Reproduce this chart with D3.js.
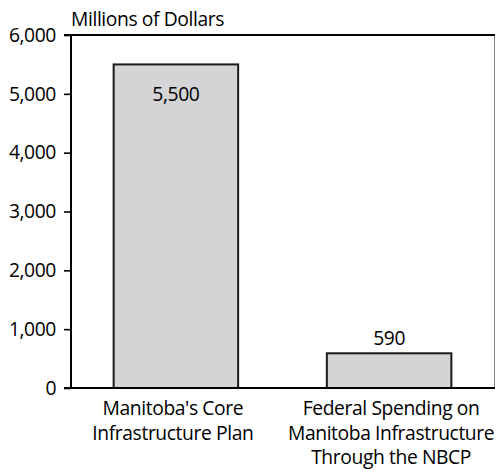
<!DOCTYPE html>
<html>
<head>
<meta charset="utf-8">
<script src="https://cdn.jsdelivr.net/npm/d3@7"></script>
<style>
  html, body { margin: 0; padding: 0; background: #fff; }
  svg { display: block; }
  text { font-family: "Open Sans", "Noto Sans", sans-serif; fill: #000; letter-spacing: -0.4px; }
</style>
</head>
<body>
<svg id="chart" width="496" height="472"></svg>
<script>
// Spending comparison, millions of dollars
const categories = [
  ["Manitoba's Core", "Infrastructure Plan"],
  ["Federal Spending on", "Manitoba Infrastructure", "Through the NBCP"]
];
const values = [5500, 590];
const valueLabels = ["5,500", "590"];
const yTicks = [0, 1000, 2000, 3000, 4000, 5000, 6000];
const yTickLabels = ["0", "1,000", "2,000", "3,000", "4,000", "5,000", "6,000"];
const axisTitle = "Millions of Dollars";

const svg = d3.select("#chart");
const plotLeft = 71, plotRight = 494, plotTop = 35, plotBottom = 388;
const fontSize = 19.3;

const x = d3.scaleBand()
  .domain(d3.range(values.length))
  .range([plotLeft, plotRight])
  .paddingInner(0.416)
  .paddingOuter(0.2);

const y = d3.scaleLinear().domain([0, 6000]).range([plotBottom, plotTop]);

// right frame edge
svg.append("line")
  .attr("x1", plotRight + 0.5).attr("x2", plotRight + 0.5)
  .attr("y1", plotTop).attr("y2", plotBottom)
  .attr("stroke", "#8a8a8a").attr("stroke-width", 1);

// bars
svg.selectAll("rect.bar")
  .data(values)
  .join("rect")
  .attr("class", "bar")
  .attr("x", (d, i) => x(i))
  .attr("width", x.bandwidth())
  .attr("y", d => y(d))
  .attr("height", d => y(0) - y(d))
  .attr("fill", "#d4d4d6")
  .attr("stroke", "#1a1a1a")
  .attr("stroke-width", 2);

// y axis
const yAxis = d3.axisLeft(y)
  .tickValues(yTicks)
  .tickFormat((d, i) => yTickLabels[i])
  .tickSize(7)
  .tickPadding(8);
const gy = svg.append("g").attr("transform", `translate(${plotLeft},0)`).call(yAxis);
gy.select(".domain").remove();
gy.selectAll(".tick line").attr("stroke", "#000").attr("stroke-width", 1.6);
gy.selectAll(".tick text")
  .attr("font-size", fontSize)
  .attr("font-family", "Open Sans")
  .attr("fill", "#000");

// axis lines: left, top, bottom
svg.append("line")
  .attr("x1", plotLeft).attr("x2", plotLeft).attr("y1", plotTop).attr("y2", plotBottom)
  .attr("stroke", "#000").attr("stroke-width", 2);
svg.append("line")
  .attr("x1", plotLeft - 7).attr("x2", plotRight + 1).attr("y1", y(6000)).attr("y2", y(6000))
  .attr("stroke", "#000").attr("stroke-width", 2);
svg.append("line")
  .attr("x1", plotLeft - 7).attr("x2", plotRight + 1).attr("y1", y(0)).attr("y2", y(0))
  .attr("stroke", "#000").attr("stroke-width", 2);

// axis title
svg.append("text")
  .attr("x", plotLeft).attr("y", 26)
  .attr("font-size", fontSize)
  .text(axisTitle);

// value labels: inside tall bar, above short bar
svg.selectAll("text.val")
  .data(values)
  .join("text")
  .attr("class", "val")
  .attr("x", (d, i) => x(i) + x.bandwidth() / 2)
  .attr("y", d => d > 3000 ? y(d) + 37 : y(d) - 8)
  .attr("text-anchor", "middle")
  .attr("font-size", fontSize)
  .text((d, i) => valueLabels[i]);

// category labels
const cat = svg.selectAll("text.cat")
  .data(categories)
  .join("text")
  .attr("class", "cat")
  .attr("text-anchor", "middle")
  .attr("font-size", fontSize);
cat.selectAll("tspan")
  .data((d, i) => d.map(line => ({ line, i })))
  .join("tspan")
  .attr("x", d => x(d.i) + x.bandwidth() / 2 + (d.i === 0 ? -3 : 2))
  .attr("y", (d, j) => 415 + j * 24.5)
  .text(d => d.line);
</script>
</body>
</html>
